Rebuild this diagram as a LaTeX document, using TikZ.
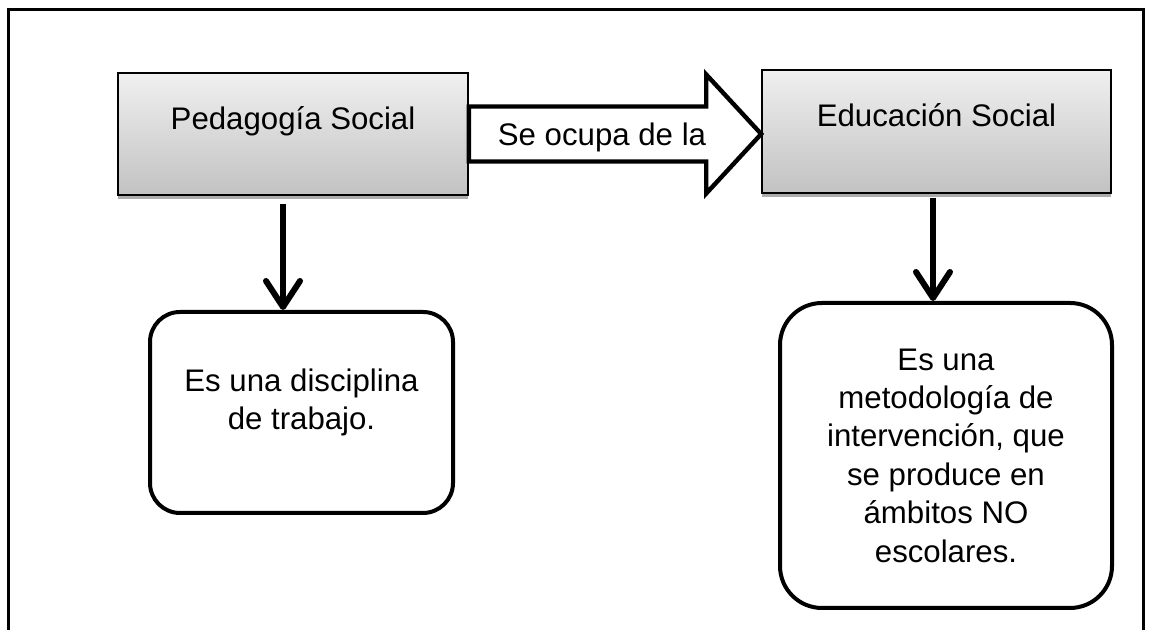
\documentclass[tikz,border=0pt]{standalone}
\usepackage{fontspec}
\setmainfont{Liberation Sans}
\usetikzlibrary{arrows.meta,shadows}

\tikzset{
  graybox/.style={draw=black, line width=0.8pt, top color=gray!12, bottom color=gray!48,
    drop shadow={shadow xshift=0pt, shadow yshift=-2pt, fill=gray!65, opacity=1},
    text height=11pt, text depth=15.5pt},
  roundbox/.style={draw=black, line width=2pt, fill=white, align=center},
  downarrow/.style={line width=3pt, -{Straight Barb[length=13pt,width=17pt,round]}},
  blockarrow/.style={draw=black, line width=2.2pt, fill=white, line join=miter}
}

\begin{document}
\begin{tikzpicture}[x=0.5pt, y=0.5pt, font=\fontsize{15.6}{19.2}\selectfont]
  \useasboundingbox (0,0) rectangle (1152,630);
  % Frame, open at the bottom
  \draw[line width=1.5pt] (8,0) -- (8,620) -- (1143,620) -- (1143,0);

  % Two shaded boxes on top
  \node[graybox, minimum width=175pt, minimum height=61pt] (pedagogia) at (293,496) {Pedagogía Social};
  \node[graybox, minimum width=174.5pt, minimum height=61.5pt] (educacion) at (936.5,498.5) {Educación Social};

  % Wide arrow from one box to the other
  \coordinate (tip) at (educacion.west |- pedagogia.east);
  \draw[blockarrow] ([yshift=13.75pt]pedagogia.east) -- ([shift={(-55,27.5)}]tip) -- ([shift={(-55,59.5)}]tip)
    -- (tip) -- ([shift={(-55,-59.5)}]tip) -- ([shift={(-55,-27.5)}]tip) -- ([yshift=-13.75pt]pedagogia.east) -- cycle;
  \node (ocupa) at (602,493) {Se ocupa de la};

  % Rounded boxes below
  \node[roundbox, minimum width=151.5pt, minimum height=100.5pt, rounded corners=15pt] (disciplina) at (301.5,217.5) {};
  \node (disciplinatext) at ([yshift=5pt]disciplina.center) [align=center] {Es una disciplina\\de trabajo.};
  \node[roundbox, minimum width=166pt, minimum height=152.5pt, rounded corners=21pt] (metodologia) at (946,174.5)
    {Es una\\metodología de\\intervención, que\\se produce en\\ámbitos NO\\escolares.};

  % Down arrows
  \draw[downarrow] ([xshift=-5pt,yshift=-4pt]pedagogia.south) -- ([xshift=-5pt]pedagogia.south |- disciplina.north);
  \draw[downarrow] ([xshift=-1.75pt,yshift=-2pt]educacion.south) -- ([xshift=-1.75pt]educacion.south |- metodologia.north);
\end{tikzpicture}
\end{document}
